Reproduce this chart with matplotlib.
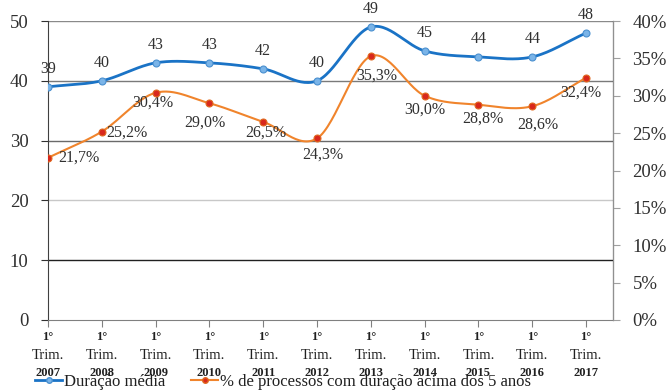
import numpy as np
import matplotlib
matplotlib.use("Agg")
import matplotlib.pyplot as plt
from matplotlib.lines import Line2D

plt.rcParams['font.family'] = ['Liberation Serif', 'DejaVu Serif']

years = ["2007", "2008", "2009", "2010", "2011", "2012", "2013", "2014", "2015", "2016", "2017"]
duracao = [39, 40, 43, 43, 42, 40, 49, 45, 44, 44, 48]
pct_5anos = [21.7, 25.2, 30.4, 29.0, 26.5, 24.3, 35.3, 30.0, 28.8, 28.6, 32.4]
pct_labels = ["21,7%", "25,2%", "30,4%", "29,0%", "26,5%", "24,3%", "35,3%", "30,0%", "28,8%", "28,6%", "32,4%"]

# label offsets (points) for the percentage series
pct_off = [(22, 0), (18, -1), (-2, -7), (-3, -14), (2, -8), (4, -12), (4, -14), (0, -10), (3, -10), (4, -13), (-4, -11)]

BLUE = "#1a73c6"
ORANGE = "#f0842c"


def smooth(y, n=30):
    # Catmull-Rom curve through the points, like a spreadsheet "smoothed line"
    y = np.asarray(y, dtype=float)
    p = np.concatenate([[2 * y[0] - y[1]], y, [2 * y[-1] - y[-2]]])
    xs, ys = [], []
    for i in range(len(y) - 1):
        p0, p1, p2, p3 = p[i], p[i + 1], p[i + 2], p[i + 3]
        t = np.linspace(0, 1, n, endpoint=False)
        yy = 0.5 * ((2 * p1) + (-p0 + p2) * t + (2 * p0 - 5 * p1 + 4 * p2 - p3) * t ** 2
                    + (-p0 + 3 * p1 - 3 * p2 + p3) * t ** 3)
        xs.append(i + t)
        ys.append(yy)
    xs.append([len(y) - 1])
    ys.append([y[-1]])
    return np.concatenate(xs), np.concatenate(ys)


fig = plt.figure(figsize=(6.69, 3.92), dpi=100)
ax = fig.add_axes([0.0717, 0.1837, 0.9163 - 0.0717, 0.9464 - 0.1837])
ax2 = ax.twinx()

x = np.arange(len(years))
ax.set_xlim(0, len(years) - 0.5)
ax.set_ylim(0, 50)
ax2.set_ylim(0, 40)

# horizontal grid
grid_cols = {10: "#202020", 20: "#c8c8c8", 30: "#6a6a6a", 40: "#7a7a7a", 50: "#8a8a8a"}
for v, c in grid_cols.items():
    ax.axhline(v, color=c, lw=1.0, zorder=0)

for s in ["top"]:
    ax.spines[s].set_visible(False)
    ax2.spines[s].set_visible(False)
ax.spines["left"].set_color("#404040")
ax.spines["bottom"].set_color("#808080")
ax2.spines["right"].set_color("#909090")
ax2.spines["left"].set_visible(False)
ax2.spines["bottom"].set_visible(False)

ax.set_yticks(range(0, 51, 10))
ax.tick_params(axis="y", labelsize=13.5, colors="#303030", length=5, width=0.8, pad=9)
ax2.set_yticks(range(0, 41, 5))
ax2.set_yticklabels([f"{v}%" for v in range(0, 41, 5)])
ax2.tick_params(axis="y", labelsize=13.5, colors="#303030", length=5, width=0.8, pad=9)
ax2.tick_params(axis="y", color="#a0a0a0")

ax.set_xticks(x)
ax.set_xticklabels([])
ax.tick_params(axis="x", length=5, color="#808080", width=0.8)

trans = ax.get_xaxis_transform()
for i, yr in enumerate(years):
    ax.annotate("1°", (i, 0), xycoords=trans, xytext=(0, -12), textcoords="offset points",
                ha="center", va="center", fontsize=9, fontweight="bold", color="#202020")
    ax.annotate("Trim.", (i, 0), xycoords=trans, xytext=(0, -25.5), textcoords="offset points",
                ha="center", va="center", fontsize=10.5, color="#202020")
    ax.annotate(yr, (i, 0), xycoords=trans, xytext=(0, -38.5), textcoords="offset points",
                ha="center", va="center", fontsize=9, fontweight="bold", color="#202020")

# Duração média
sx, sy = smooth(duracao)
ax.plot(sx, sy, color=BLUE, lw=2.0, zorder=3)
ax.plot(x, duracao, ls="none", marker="o", ms=5, mfc="#7ab4e8", mec="#4a90d0", mew=0.8, zorder=4)
for i, v in enumerate(duracao):
    ax.annotate(str(v), (i, v), xytext=(0, 13), textcoords="offset points",
                ha="center", va="center", fontsize=11.5, color="#303030")

# % de processos acima dos 5 anos
px, py = smooth(pct_5anos)
ax2.plot(px, py, color=ORANGE, lw=1.5, zorder=3)
ax2.plot(x, pct_5anos, ls="none", marker="o", ms=5, mfc="#d8281c", mec="#e06a20", mew=0.8, zorder=4)
for i, v in enumerate(pct_5anos):
    ax2.annotate(pct_labels[i], (i, v), xytext=pct_off[i], textcoords="offset points",
                 ha="center", va="center", fontsize=11.5, color="#303030")

handles = [
    Line2D([], [], color=BLUE, lw=2.0, marker="o", ms=4, mfc="#7ab4e8", mec="#4a90d0"),
    Line2D([], [], color=ORANGE, lw=1.5, marker="o", ms=4, mfc="#d8281c", mec="#e06a20"),
]
fig.legend(handles, ["Duração média", "% de processos com duração acima dos 5 anos"],
           loc="center", bbox_to_anchor=(283 / 669, 1 - 382 / 392), ncol=2, frameon=False,
           fontsize=12, handlelength=1.6, handletextpad=0.1, columnspacing=1.6,
           labelcolor="#202020")

fig.savefig("out.png", dpi=100)
